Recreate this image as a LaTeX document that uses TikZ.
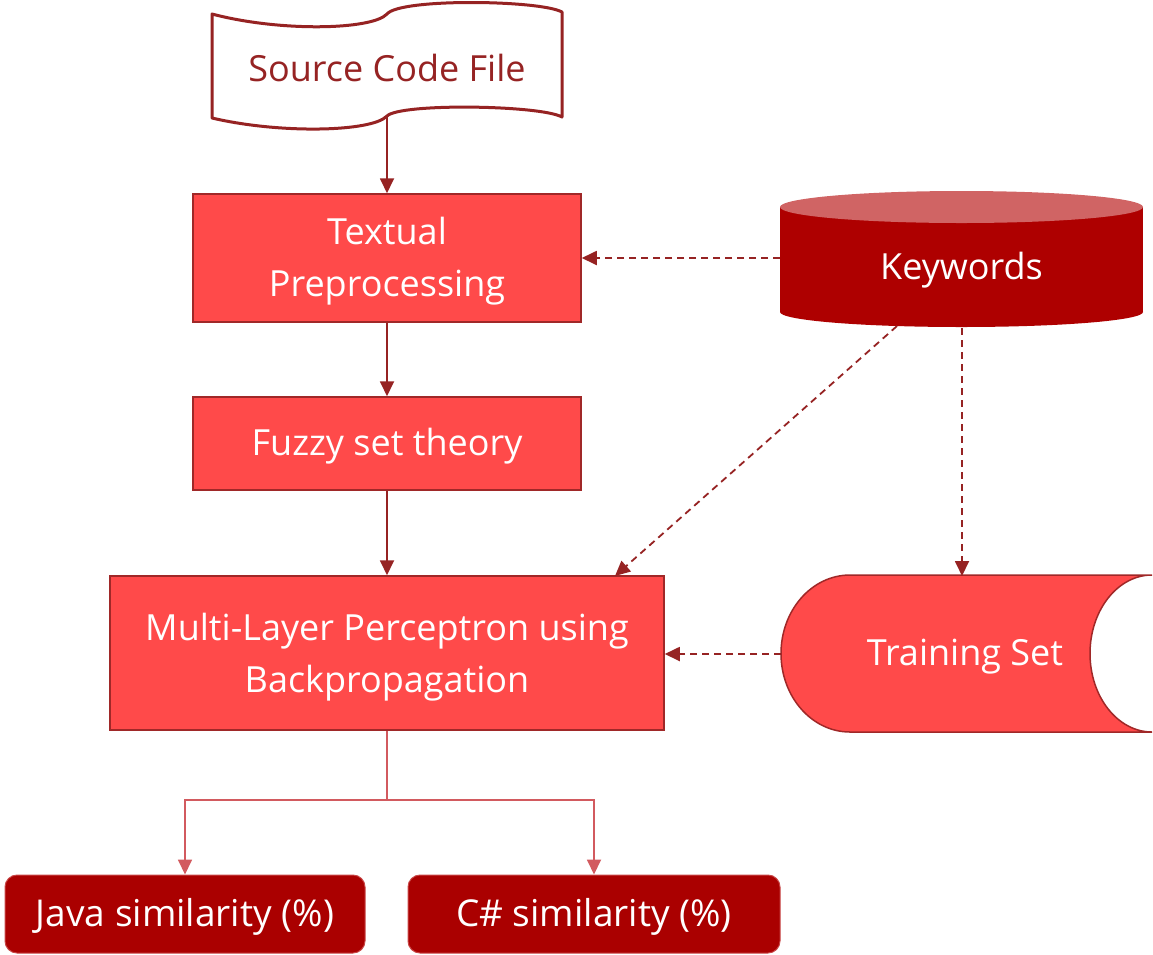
\documentclass[tikz,border=0pt]{standalone}
\usepackage{fontspec}
\setmainfont{Open Sans}
\usetikzlibrary{arrows.meta}
\definecolor{boxfill}{RGB}{255,74,74}
\definecolor{boxline}{RGB}{160,40,40}
\definecolor{arr}{RGB}{150,35,35}
\definecolor{kwbody}{RGB}{174,0,0}
\definecolor{kwtop}{RGB}{208,100,100}
\definecolor{outfill}{RGB}{170,0,0}
\definecolor{outline}{RGB}{200,70,70}
\definecolor{splitline}{RGB}{210,90,95}
\tikzset{
  procbox/.style={draw=boxline, line width=1.5pt, fill=boxfill, inner sep=0pt},
  outbox/.style={draw=outline, line width=1pt, fill=outfill, rounded corners=12pt, inner sep=0pt},
  flow/.style={draw=arr, line width=1.8pt, -{Triangle[length=15pt,width=14pt]}},
  dflow/.style={draw=arr, line width=1.8pt, dash pattern=on 7pt off 5pt, -{Triangle[length=15pt,width=14pt]}},
  sflow/.style={draw=splitline, line width=1.8pt, -{Triangle[length=15pt,width=14pt]}},
  lbl/.style={text=white, align=center, inner sep=0pt, font=\fontsize{36}{52}\selectfont},
  olbl/.style={text=white, align=center, inner sep=0pt, font=\fontsize{37}{44}\selectfont}
}
\begin{document}
\begin{tikzpicture}[x=1pt,y=-1pt]
\useasboundingbox (0,0) rectangle (1153,954);
% document (tape) shape
\draw[arr, line width=3pt, fill=white, line join=round]
  (212,14) .. controls (280,32) and (372,30) .. (387,14)
  .. controls (400,-2) and (540,0) .. (562,12)
  -- (562,117)
  .. controls (540,105) and (400,103) .. (387,116)
  .. controls (372,132) and (280,134) .. (212,118) -- cycle;
\node[text=arr, font=\fontsize{36}{44}\selectfont, inner sep=0pt] (doc) at (387,68) {Source Code File};
\coordinate (docb) at (387,117);
% process boxes
\node[procbox, minimum width=388pt, minimum height=128pt] (tp) at (387,258) {};
\node[lbl] (tpt) at (387,261) {Textual\\Preprocessing};
\node[procbox, minimum width=388pt, minimum height=93pt] (fz) at (387,443.5) {};
\node[lbl] (fzt) at (387,446) {Fuzzy set theory};
\node[procbox, minimum width=554pt, minimum height=154pt] (mlp) at (387,653) {};
\node[lbl] (mlpt) at (387,657) {Multi-Layer Perceptron using\\Backpropagation};
% keywords cylinder
\fill[kwbody] (780,207) rectangle (1143,312);
\fill[kwbody] (961.5,312) ellipse [x radius=181.5pt, y radius=15pt];
\fill[kwtop] (961.5,207) ellipse [x radius=181.5pt, y radius=16pt];
\coordinate (kwc) at (961.5,259.5);
\node[lbl] (kw) at (961.5,270) {Keywords};
% training set
\draw[boxline, line width=1.5pt, fill=boxfill]
  (850,575) .. controls (811.9,575) and (781,610.1) .. (781,653.5)
  .. controls (781,696.9) and (811.9,732) .. (850,732)
  -- (1152,732)
  .. controls (1117.8,732) and (1090,696.9) .. (1090,653.5)
  .. controls (1090,610.1) and (1117.8,575) .. (1152,575) -- cycle;
\node[lbl] (ts) at (965,657) {Training Set};
\coordinate (tsw) at (781,654);
\coordinate (tsn) at (962,576);
\coordinate (kws) at (962,328);
\coordinate (kwsw) at (897,326);
\coordinate (kww) at (780,258);
% output boxes
\node[outbox, minimum width=360pt, minimum height=78pt] (java) at (185,914) {};
\node[olbl] (javat) at (185,917) {Java similarity (\%)};
\node[outbox, minimum width=372pt, minimum height=78pt] (cs) at (594,914) {};
\node[olbl] (cst) at (594,917) {C\# similarity (\%)};
% connectors
\draw[flow] (docb) -- (tp.north);
\draw[flow] (tp.south) -- (fz.north);
\draw[flow] (fz.south) -- (mlp.north);
\draw[dflow] (kww) -- (tp.east);
\draw[dflow] (kwsw) -- (615,576);
\draw[dflow] (kws) -- (tsn);
\draw[dflow] (tsw) -- (mlp.east |- tsw);
\coordinate (split) at (387,800);
\draw[splitline, line width=1.8pt] (mlp.south) -- (split);
\draw[sflow] (split) -| (java.north);
\draw[sflow] (split) -| (cs.north);
\end{tikzpicture}
\end{document}
